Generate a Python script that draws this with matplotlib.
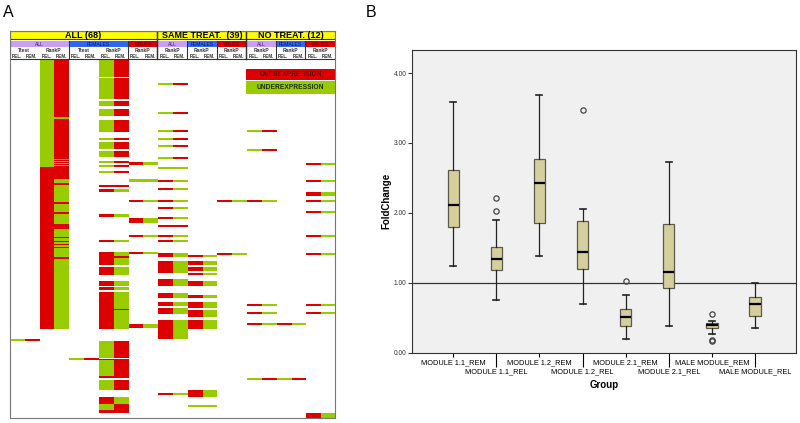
import numpy as np
import matplotlib.pyplot as plt
from matplotlib.patches import Rectangle
from matplotlib.colors import ListedColormap

plt.rcParams['font.family'] = ['Liberation Sans', 'DejaVu Sans']

RED = '#dd0000'
GREEN = '#99cc00'

# ---- panel A data ----
n_rows = 358
n_cols = 22
groups = [('ALL (68)', 10), ('SAME TREAT.  (39)', 6), ('NO TREAT. (12)', 6)]
subgroups = [('ALL', 4), ('FEMALES', 4), ('MALES', 2),
             ('ALL', 2), ('FEMALES', 2), ('MALES', 2),
             ('ALL', 2), ('FEMALES', 2), ('MALES', 2)]
tests = ['Ttest', 'RankP', 'Ttest', 'RankP', 'RankP', 'RankP',
         'RankP', 'RankP', 'RankP', 'RankP', 'RankP']
col_labels = ['REL.', 'REM.'] * 11

# runs per column pair (REL, REM): (first row, last row, REL value, REM value)
pair_runs = {
    0: [(279, 281, 'G', 'R')],
    1: [(0, 58, 'G', 'R'), (58, 60, 'G', 'G'), (60, 100, 'G', 'R'),
        (100, 101, 'G', 'G'), (101, 102, 'G', 'R'), (102, 103, 'G', 'G'),
        (103, 104, 'G', 'R'), (104, 105, 'G', 'G'), (105, 106, 'G', 'R'),
        (106, 107, 'G', 'G'), (107, 108, 'G', 'R'),
        (108, 120, 'R', 'R'), (120, 124, 'R', 'G'), (124, 126, 'R', 'R'),
        (126, 143, 'R', 'G'), (143, 145, 'R', 'R'), (145, 153, 'R', 'G'),
        (153, 155, 'R', 'R'), (155, 165, 'R', 'G'), (165, 170, 'R', 'R'),
        (170, 178, 'R', 'G'), (178, 179, 'R', 'R'), (179, 181, 'R', 'G'),
        (181, 182, 'R', 'R'), (182, 184, 'R', 'G'), (184, 185, 'R', 'R'),
        (185, 187, 'R', 'G'), (187, 188, 'R', 'R'), (188, 197, 'R', 'G'),
        (197, 199, 'R', 'R'), (199, 269, 'R', 'G')],
    2: [(298, 300, 'G', 'R')],
    3: [(0, 18, 'G', 'R'), (19, 40, 'G', 'R'), (42, 47, 'G', 'R'),
        (50, 57, 'G', 'R'), (61, 73, 'G', 'R'), (79, 81, 'G', 'R'),
        (83, 90, 'G', 'R'), (92, 98, 'G', 'R'), (102, 104, 'G', 'R'),
        (106, 108, 'G', 'R'), (112, 114, 'G', 'R'), (126, 128, 'R', 'R'),
        (130, 133, 'R', 'G'), (155, 158, 'R', 'G'), (180, 182, 'R', 'G'),
        (192, 196, 'R', 'G'), (196, 198, 'R', 'R'), (198, 205, 'R', 'G'),
        (207, 215, 'R', 'G'), (221, 226, 'R', 'G'), (227, 230, 'R', 'G'),
        (232, 249, 'R', 'G'), (249, 250, 'R', 'R'), (250, 269, 'R', 'G'),
        (281, 298, 'G', 'R'), (299, 300, 'R', 'R'), (300, 316, 'G', 'R'),
        (316, 318, 'R', 'R'), (320, 330, 'G', 'R'), (337, 344, 'R', 'G'),
        (344, 350, 'G', 'R'), (350, 353, 'R', 'R')],
    4: [(103, 106, 'R', 'G'), (120, 123, 'G', 'G'), (141, 143, 'R', 'G'),
        (159, 164, 'R', 'G'), (176, 178, 'R', 'G'), (192, 194, 'R', 'G'),
        (264, 268, 'R', 'G')],
    5: [(24, 26, 'G', 'R'), (53, 55, 'G', 'R'), (71, 73, 'G', 'R'),
        (79, 81, 'G', 'R'), (86, 88, 'G', 'R'), (98, 100, 'G', 'R'),
        (108, 110, 'G', 'G'), (121, 123, 'R', 'G'), (129, 131, 'R', 'G'),
        (141, 143, 'R', 'G'), (148, 150, 'R', 'G'), (158, 160, 'R', 'G'),
        (166, 168, 'R', 'R'), (176, 178, 'R', 'G'), (180, 182, 'R', 'G'),
        (193, 197, 'R', 'G'), (201, 213, 'R', 'G'), (219, 226, 'R', 'G'),
        (233, 238, 'R', 'G'), (242, 246, 'R', 'G'), (248, 254, 'R', 'G'),
        (260, 279, 'R', 'G'), (333, 335, 'R', 'G')],
    6: [(195, 197, 'R', 'G'), (201, 205, 'R', 'G'), (207, 211, 'R', 'G'),
        (213, 215, 'R', 'G'), (221, 226, 'R', 'G'), (235, 238, 'R', 'G'),
        (242, 248, 'R', 'G'), (250, 257, 'R', 'G'), (260, 269, 'R', 'G'),
        (330, 337, 'R', 'G'), (345, 347, 'G', 'G')],
    7: [(141, 143, 'R', 'G'), (193, 195, 'R', 'G')],
    8: [(71, 73, 'G', 'R'), (90, 92, 'G', 'R'), (141, 143, 'R', 'G'),
        (244, 246, 'R', 'G'), (252, 254, 'R', 'G'), (263, 265, 'R', 'G'),
        (318, 320, 'G', 'R')],
    9: [(263, 265, 'R', 'G'), (318, 320, 'G', 'R')],
    10: [(104, 106, 'R', 'G'), (121, 123, 'R', 'G'), (133, 137, 'R', 'G'),
         (141, 143, 'R', 'G'), (152, 154, 'R', 'G'), (176, 178, 'R', 'G'),
         (193, 195, 'R', 'G'), (244, 246, 'R', 'G'), (252, 254, 'R', 'G'),
         (353, 358, 'R', 'G')],
}

# ---- panel B data ----
groups_b = ['MODULE 1.1_REM', 'MODULE 1.1_REL', 'MODULE 1.2_REM', 'MODULE 1.2_REL',
            'MODULE 2.1_REM', 'MODULE 2.1_REL', 'MALE MODULE_REM', 'MALE MODULE_REL']
whislo = [1.24, 0.76, 1.38, 0.69, 0.19, 0.38, 0.27, 0.35]
q1 = [1.80, 1.18, 1.86, 1.20, 0.38, 0.93, 0.36, 0.53]
med = [2.11, 1.34, 2.43, 1.44, 0.51, 1.16, 0.39, 0.70]
q3 = [2.61, 1.51, 2.77, 1.89, 0.62, 1.84, 0.42, 0.80]
whishi = [3.59, 1.90, 3.69, 2.06, 0.83, 2.73, 0.45, 0.99]
fliers = [[], [2.21, 2.02], [], [3.47], [1.03], [], [0.55, 0.17, 0.18], []]

fig = plt.figure(figsize=(8, 4.23), dpi=100)

# ================= A =================
val = {'R': 1, 'G': -1, '': 0}
M = np.zeros((n_rows, n_cols))
for p, runs in pair_runs.items():
    for r0, r1, a, b in runs:
        M[r0:r1, 2 * p] = val[a]
        M[r0:r1, 2 * p + 1] = val[b]

axA = fig.add_axes([9.5 / 800, 1 - 417.7 / 423, 325.5 / 800, 386.7 / 423])
cmap = ListedColormap([GREEN, 'white', RED])
axA.imshow(M, cmap=cmap, vmin=-1, vmax=1, aspect='auto',
           extent=(0, n_cols, n_rows, 0), interpolation='nearest')
axA.set_xlim(0, n_cols)
axA.set_ylim(n_rows, -28.3)
axA.set_xticks([])
axA.set_yticks([])
for s in axA.spines.values():
    s.set_color('#777777')
    s.set_linewidth(0.8)

y_top, y_sub, y_sub2, y_test, y_rel = -28.3, -20.0, -18.6, -12.5, -6.4
x = 0
for name, w in groups:
    axA.add_patch(Rectangle((x, y_top), w, y_sub - y_top, facecolor='#ffff00',
                            edgecolor='#333333', lw=0.8))
    axA.text(x + w / 2, (y_top + y_sub) / 2 + 0.4, name, ha='center', va='center',
             fontsize=6.5, fontweight='bold')
    x += w
sub_colors = {'ALL': ('#c9a0f5', '#3a2060'), 'FEMALES': ('#3366f0', '#101850'),
              'MALES': ('#dd0000', '#600000')}
x = 0
for name, w in subgroups:
    fc, tc = sub_colors[name]
    axA.add_patch(Rectangle((x, y_sub2), w, y_test - y_sub2, facecolor=fc,
                            edgecolor='none'))
    axA.text(x + w / 2, (y_sub2 + y_test) / 2 + 0.3, name, ha='center', va='center',
             fontsize=3.6, color=tc)
    axA.plot([x, x], [y_sub2, 0], color='#333333', lw=0.8)
    x += w
for i, t in enumerate(tests):
    axA.text(2 * i + 1, (y_test + y_rel) / 2 + 0.3, t, ha='center', va='center',
             fontsize=3.6, fontweight='bold', color='#333333')
for i, t in enumerate(col_labels):
    axA.text(i + 0.5, y_rel / 2 + 0.3, t, ha='center', va='center',
             fontsize=3.3, fontweight='bold', color='#333333')
for xb in [10, 16]:
    axA.plot([xb, xb], [y_top, 0], color='#333333', lw=1.0)
axA.plot([0, n_cols], [0, 0], color='#333333', lw=0.8)

axA.add_patch(Rectangle((16, 9.3), 6, 11.7, facecolor=RED, edgecolor='none'))
axA.add_patch(Rectangle((16, 22.0), 6, 12.3, facecolor=GREEN, edgecolor='none'))
axA.text(19, 15.3, 'OVEREXPRESSION', ha='center', va='center', fontsize=4.8,
         fontweight='bold', color='#5a0000')
axA.text(19, 28.3, 'UNDEREXPRESSION', ha='center', va='center', fontsize=4.8,
         fontweight='bold', color='#1c2a00')

# ================= B =================
axB = fig.add_axes([412.3 / 800, 1 - 352.7 / 423, 383.7 / 800, 302.7 / 423])
axB.set_facecolor('#f0f0f0')
stats = []
for i in range(len(groups_b)):
    stats.append(dict(label=groups_b[i], whislo=whislo[i], q1=q1[i], med=med[i],
                      q3=q3[i], whishi=whishi[i], fliers=fliers[i]))
pos = np.arange(1, len(groups_b) + 1)
axB.axhline(1.0, color='#333333', lw=0.9, zorder=1)
axB.bxp(stats, positions=pos, widths=0.26, capwidths=0.14, patch_artist=True,
        manage_ticks=False,
        boxprops=dict(facecolor='#d5cf9d', edgecolor='#5a5a4a', linewidth=0.9),
        medianprops=dict(color='black', linewidth=1.6),
        whiskerprops=dict(color='#222222', linewidth=0.9),
        capprops=dict(color='#222222', linewidth=1.2),
        flierprops=dict(marker='o', markerfacecolor='none', markeredgecolor='#444444',
                        markersize=3.8, markeredgewidth=0.9))
axB.set_xlim(0.05, 8.95)
axB.set_ylim(0, 4.33)
axB.set_yticks([0, 1, 2, 3, 4], labels=[f'{v:.2f}' for v in [0, 1, 2, 3, 4]])
axB.set_xticks(pos[0::2], labels=groups_b[0::2])
axB.set_xticks(pos[1::2], labels=groups_b[1::2], minor=True)
axB.tick_params(axis='y', length=3, width=0.8, pad=1, labelsize=4.8, colors='#333333')
axB.tick_params(axis='x', which='major', length=3, width=0.8, pad=2, labelsize=5.3)
axB.tick_params(axis='x', which='minor', length=10, width=0.8, pad=1.5, labelsize=5.3)
for s in axB.spines.values():
    s.set_color('#333333')
    s.set_linewidth(0.8)
axB.set_xlabel('Group', fontsize=7, fontweight='bold', labelpad=3)
axB.set_ylabel('FoldChange', fontsize=7, fontweight='bold', labelpad=2)

fig.text(3.3 / 800, 1 - 17.3 / 423, 'A', fontsize=11.5, va='baseline')
fig.text(366 / 800, 1 - 17.3 / 423, 'B', fontsize=11.5, va='baseline')

fig.savefig('out.png', dpi=100)
